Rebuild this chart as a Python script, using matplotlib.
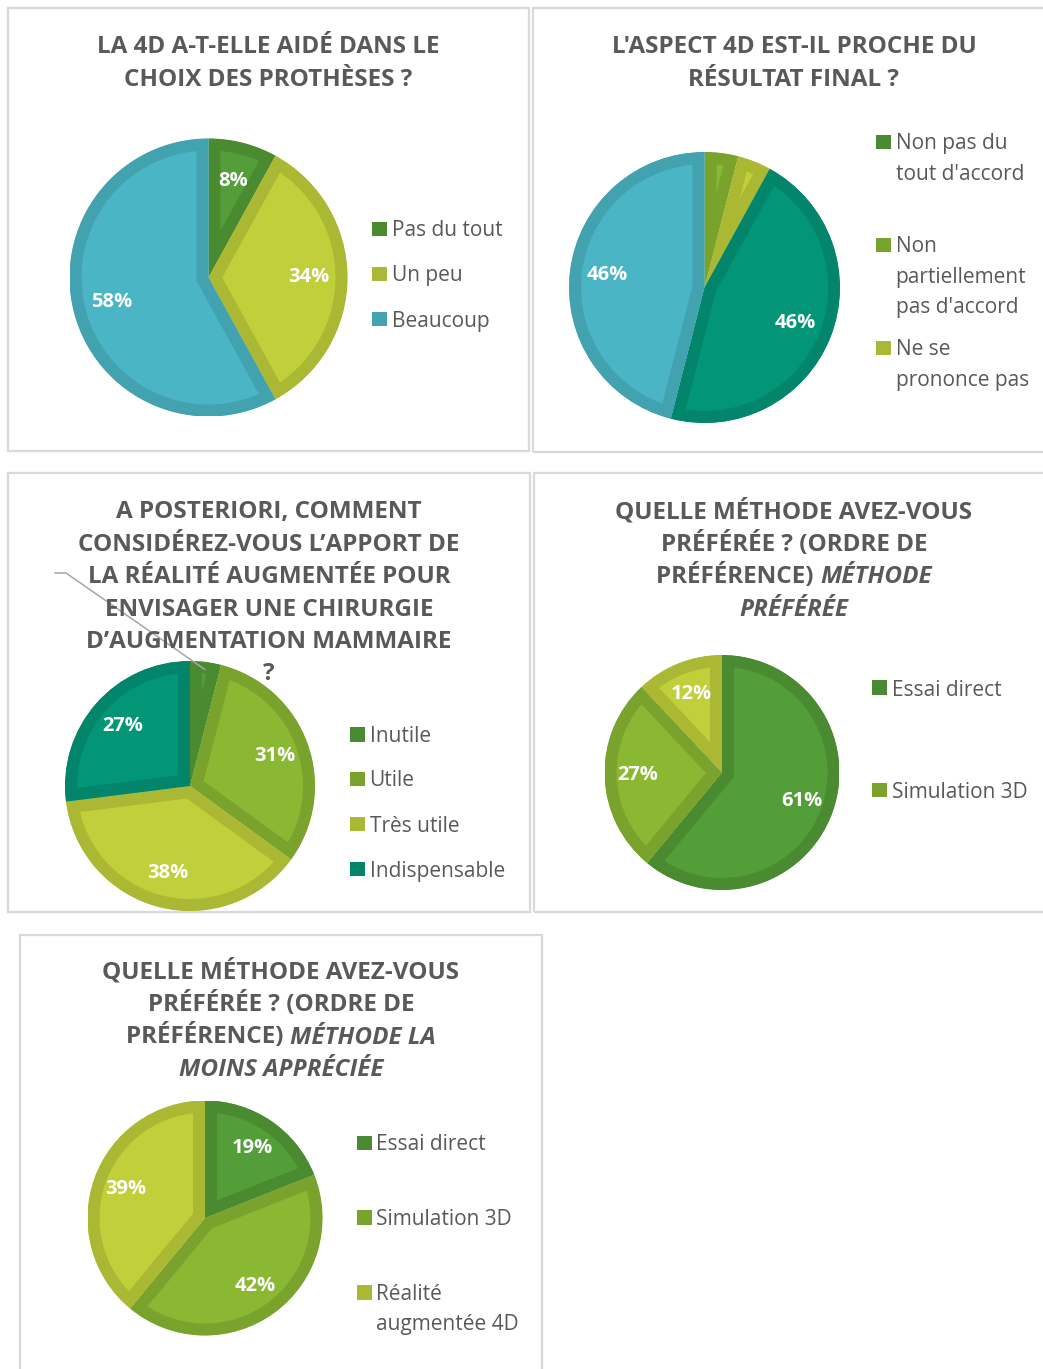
import matplotlib
matplotlib.use("Agg")
import matplotlib.pyplot as plt
from matplotlib.patches import Rectangle
from matplotlib.lines import Line2D
import numpy as np

plt.rcParams["font.family"] = ["Open Sans", "DejaVu Sans"]

W, H = 1043, 1369
INK = "#595959"
FRAME = "#D9D9D9"

# Office "Green" theme accents (fill) and their darker outline shades
FILL = {"g1": "#549E39", "g2": "#8AB833", "g3": "#C0CF3A", "g4": "#029676", "g5": "#4AB5C4"}
EDGE = {"g1": "#4A8B32", "g2": "#7AA32D", "g3": "#ABB833", "g4": "#02856A", "g5": "#42A2B0"}

# --- data -------------------------------------------------------------------
q1_labels = ["Pas du tout", "Un peu", "Beaucoup"]
q1_values = [8, 34, 58]
q1_colors = ["g1", "g3", "g5"]

q2_labels = ["Non pas du\ntout d'accord", "Non\npartiellement\npas d'accord", "Ne se\nprononce pas"]
q2_values = [0, 4, 4, 46, 46]
q2_colors = ["g1", "g2", "g3", "g4", "g5"]

q3_labels = ["Inutile", "Utile", "Très utile", "Indispensable"]
q3_values = [4, 31, 38, 27]
q3_colors = ["g1", "g2", "g3", "g4"]

q4_labels = ["Essai direct", "Simulation 3D"]
q4_values = [61, 27, 12]
q4_colors = ["g1", "g2", "g3"]

q5_labels = ["Essai direct", "Simulation 3D", "Réalité\naugmentée 4D"]
q5_values = [19, 42, 39]
q5_colors = ["g1", "g2", "g3"]

BORDER_PX = 12

fig = plt.figure(figsize=(W / 100, H / 100), dpi=100)
fig.patch.set_facecolor("white")


def fx(x):
    return x / W


def fy(y):
    return 1 - y / H


def panel(x0, y0, x1, y1):
    fig.add_artist(Rectangle((fx(x0), fy(y1)), (x1 - x0) / W, (y1 - y0) / H,
                             transform=fig.transFigure, fill=False,
                             edgecolor=FRAME, linewidth=1.6, zorder=0))


def title(cx, baselines, lines):
    renderer = fig.canvas.get_renderer()
    for y, parts in zip(baselines, lines):
        texts = []
        for txt, italic in parts:
            t = fig.text(0, fy(y), txt, fontsize=17.5, fontweight="bold", color=INK,
                         fontstyle="italic" if italic else "normal",
                         ha="left", va="baseline")
            texts.append(t)
        widths = [t.get_window_extent(renderer).width for t in texts]
        x = cx - sum(widths) / 2
        for t, w in zip(texts, widths):
            t.set_x(fx(x))
            x += w


def pie(cx, cy, r, values, keys):
    ax = fig.add_axes([fx(cx - r), fy(cy + r), 2 * r / W, 2 * r / H])
    wedges, _, _ = ax.pie(values, colors=[FILL[k] for k in keys], startangle=90,
                          counterclock=False, pctdistance=0.72,
                          autopct=lambda p: f"{p:.0f}%" if p >= 5 else "",
                          textprops=dict(color="white", fontsize=14.5, fontweight="bold"))
    # darker outline drawn inside each slice only (stroke clipped to the slice)
    for w, k in zip(wedges, keys):
        w.set_edgecolor(EDGE[k])
        w.set_linewidth(2 * BORDER_PX * 0.72)
        w.set_joinstyle("miter")
        w.set_clip_on(True)
        w.set_clip_path(w)
    ax.set_xlim(-1, 1)
    ax.set_ylim(-1, 1)
    return ax, wedges


def legend(x, baselines, labels, keys, pitch=30, size=14.5):
    for y, lab, k in zip(baselines, labels, keys):
        fig.add_artist(Rectangle((fx(x), fy(y - 0.5)), size / W, size / H,
                                 transform=fig.transFigure, facecolor=EDGE[k],
                                 edgecolor="none"))
        for i, line in enumerate(lab.split("\n")):
            fig.text(fx(x + size + 5), fy(y + i * pitch), line, fontsize=15,
                     color=INK, ha="left", va="baseline")


# --- panels -----------------------------------------------------------------
panel(8, 8, 529, 451)
panel(533, 8, 1060, 452)
panel(8, 473, 530, 912)
panel(534, 473, 1060, 912)
panel(20, 935, 542, 1390)

# 1
title(268.5, [53, 86], [[("LA 4D A-T-ELLE AIDÉ DANS LE", False)],
                        [("CHOIX DES PROTHÈSES ?", False)]])
pie(208.5, 277.5, 139, q1_values, q1_colors)
legend(372, [236.5, 281.5, 326.5], q1_labels, q1_colors)

# 2
title(794, [53, 86], [[("L'ASPECT 4D EST-IL PROCHE DU", False)],
                      [("RÉSULTAT FINAL ?", False)]])
pie(704.5, 287.5, 135.5, q2_values, q2_colors)
legend(876, [149.5, 252.5, 355.5], q2_labels, q2_colors)

# 3
title(269, [518, 550.5, 583, 615.5, 648, 680.5],
      [[("A POSTERIORI, COMMENT", False)],
       [("CONSIDÉREZ-VOUS L’APPORT DE", False)],
       [("LA RÉALITÉ AUGMENTÉE POUR", False)],
       [("ENVISAGER UNE CHIRURGIE", False)],
       [("D’AUGMENTATION MAMMAIRE", False)],
       [("?", False)]])
cx3, cy3, r3 = 190, 786, 125
ax3, w3 = pie(cx3, cy3, r3, q3_values, q3_colors)
mid = np.deg2rad((w3[0].theta1 + w3[0].theta2) / 2)
ax3.add_line(Line2D([0.94 * np.cos(mid), (66 - cx3) / r3, (55 - cx3) / r3],
                    [0.94 * np.sin(mid), (cy3 - 573) / r3, (cy3 - 573) / r3],
                    color="#A6A6A6", linewidth=1.1, clip_on=False))
legend(350, [742, 786.5, 831.5, 876.5], q3_labels, q3_colors)

# 4
title(794, [518, 550.5, 583, 615.5],
      [[("QUELLE MÉTHODE AVEZ-VOUS", False)],
       [("PRÉFÉRÉE ? (ORDRE DE", False)],
       [("PRÉFÉRENCE) ", False), ("MÉTHODE", True)],
       [("PRÉFÉRÉE", True)]])
pie(722, 772.5, 117.5, q4_values, q4_colors)
legend(872, [695.5, 797.5], q4_labels, q4_colors)

# 5
title(281, [978, 1011, 1043.5, 1076],
      [[("QUELLE MÉTHODE AVEZ-VOUS", False)],
       [("PRÉFÉRÉE ? (ORDRE DE", False)],
       [("PRÉFÉRENCE) ", False), ("MÉTHODE LA", True)],
       [("MOINS APPRÉCIÉE", True)]])
pie(205, 1218, 117.5, q5_values, q5_colors)
legend(357, [1150.5, 1225, 1300], q5_labels, q5_colors)

fig.savefig("out.png", dpi=100, facecolor="white")
